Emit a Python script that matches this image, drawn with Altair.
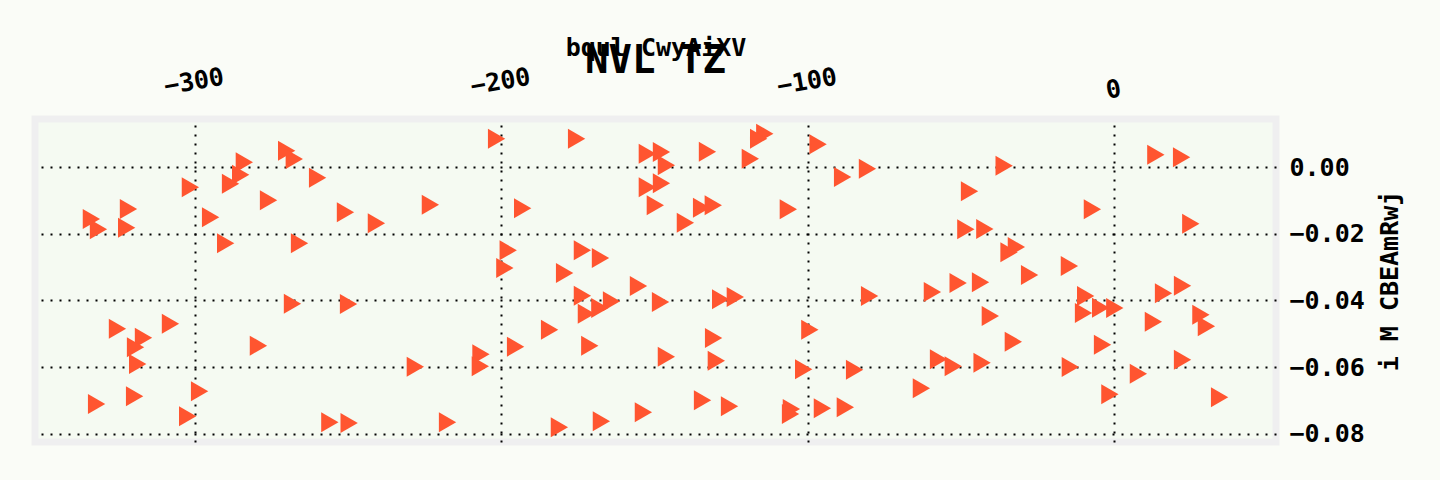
import altair as alt
import pandas as pd

x_vals = [
    -270.1, -267.6, -283.9, -285.1, -288.4, -260.0, -301.5, -276.0, -223.2, -250.9,
    -240.8, -321.7, -333.8, -331.5, -322.3, -294.9, -290.0, -265.9, -268.2, -249.9,
    -325.3, -308.0, -316.8, -319.4, -318.7, -279.3, -228.1, -206.7, -206.9, -332.1,
    -319.7, -298.5, -302.4, -256.0, -249.7, -217.6,
    -201.6, -175.5, -114.1, -116.1, -96.7, -152.4, -147.8, -132.8, -118.8, -146.2,
    -88.7, -80.6, -152.4, -147.8, -193.1, -149.8, -134.7, -130.9, -106.4, -140.0,
    -197.8, -198.9, -173.6, -167.7, -179.4, -155.3, -173.6, -172.3, -167.9, -164.1,
    -148.1, -128.5, -123.7, -184.3, -195.4, -171.2, -146.2, -130.8, -129.9, -99.4,
    -101.4, -79.9, -59.4, -51.0, -84.8, -57.4, -52.6, -63.0, -134.4, -125.6,
    -153.7, -167.4, -181.1, -105.4, -105.7, -95.3, -87.8,
    -36.0, -47.3, -7.2, 13.5, 21.9, 24.9, -48.5, -42.3, -34.4, -32.0,
    -14.7, -27.7, -43.7, 16.0, 22.2, -9.4, -10.1, -4.5, 0.1, -40.5,
    12.7, 28.2, 30.0, -33.0, -3.9, -43.2, -14.4, 22.2, 7.8, -1.5, 34.3,
]
y_vals = [
    0.0049, 0.0024, 0.0014, -0.0023, -0.0050, -0.0032, -0.0061, -0.0100, -0.0113, -0.0136,
    -0.0169, -0.0126, -0.0156, -0.0187, -0.0182, -0.0151, -0.0229, -0.0229, -0.0410, -0.0411,
    -0.0485, -0.0470, -0.0512, -0.0541, -0.0591, -0.0536, -0.0599, -0.0562, -0.0598, -0.0711,
    -0.0688, -0.0673, -0.0748, -0.0766, -0.0768, -0.0766,
    0.0085, 0.0085, 0.0100, 0.0085, 0.0068, 0.0040, 0.0045, 0.0046, 0.0025, 0.0005,
    -0.0030, -0.0005, -0.0061, -0.0049, -0.0124, -0.0115, -0.0122, -0.0115, -0.0127, -0.0167,
    -0.0250, -0.0303, -0.0250, -0.0273, -0.0318, -0.0357, -0.0386, -0.0440, -0.0423, -0.0403,
    -0.0405, -0.0397, -0.0390, -0.0488, -0.0539, -0.0536, -0.0569, -0.0513, -0.0581, -0.0488,
    -0.0607, -0.0387, -0.0375, -0.0348, -0.0608, -0.0577, -0.0598, -0.0664, -0.0700, -0.0718,
    -0.0736, -0.0763, -0.0781, -0.0726, -0.0741, -0.0724, -0.0721,
    0.0004, -0.0073, -0.0127, 0.0037, 0.0029, -0.0170, -0.0187, -0.0186, -0.0256, -0.0240,
    -0.0297, -0.0324, -0.0346, -0.0379, -0.0356, -0.0387, -0.0438, -0.0422, -0.0423, -0.0447,
    -0.0464, -0.0443, -0.0478, -0.0524, -0.0533, -0.0587, -0.0600, -0.0578, -0.0620, -0.0682, -0.0691,
]
x_ticks = [-300, -200, -100, 0]
y_ticks = [0.0, -0.02, -0.04, -0.06, -0.08]
x_domain = [-352.2, 52.7]
y_domain = [-0.0825, 0.0144]

df = pd.DataFrame({"x": x_vals, "y": y_vals})

FONT = "DejaVu Sans Mono"

chart = alt.Chart(df).mark_point(
    shape="triangle-right", filled=True, size=400, color="#ff5530", opacity=1
).encode(
    x=alt.X("x:Q", scale=alt.Scale(domain=x_domain, nice=False, zero=False),
            axis=alt.Axis(orient="top", title="bqul CwyAiXV", values=x_ticks,
                          labelAngle=350, labelAlign="center", labelBaseline="alphabetic",
                          labelPadding={"condition": {"test": "datum.value === 0", "value": 22}, "value": 30},
                          tickSize=0, ticks=False, domain=False,
                          labelFont=FONT, labelFontSize=25, labelFontWeight="bold", labelColor="#000000",
                          titleFont=FONT, titleFontSize=25, titleFontWeight="bold", titleColor="#000000",
                          titleBaseline="alphabetic", titleY=-64,
                          grid=True, gridColor="#000000", gridDash=[2, 7], gridWidth=2, gridOpacity=1,
                          labelOverlap=False)),
    y=alt.Y("y:Q", scale=alt.Scale(domain=y_domain, nice=False, zero=False),
            axis=alt.Axis(orient="right", title="i M CBEAmRwj", values=y_ticks, format=".2f",
                          labelPadding=13, tickSize=0, ticks=False, domain=False,
                          labelFont=FONT, labelFontSize=25, labelFontWeight="bold", labelColor="#000000",
                          titleFont=FONT, titleFontSize=25, titleFontWeight="bold", titleColor="#000000",
                          titleAngle=270, titleBaseline="alphabetic", titleAlign="center",
                          titleX=121, titleY=161.5,
                          grid=True, gridColor="#000000", gridDash=[2, 7], gridWidth=2, gridOpacity=1,
                          labelOverlap=False)),
).properties(
    width=1241, height=323,
    title=alt.TitleParams("NVL TZ", font=FONT, fontSize=39, fontWeight="bold", color="#000000",
                          anchor="middle", baseline="alphabetic", offset=-77),
    background="#fafcf7",
    autosize=alt.AutoSizeParams(type="none"),
    padding={"left": 35, "top": 119, "right": 164, "bottom": 38},
).configure_view(
    fill="#f5faf2", stroke="#efeff0", strokeWidth=7
)

chart.save("out.html", embed_options={"renderer": "svg", "actions": False})
